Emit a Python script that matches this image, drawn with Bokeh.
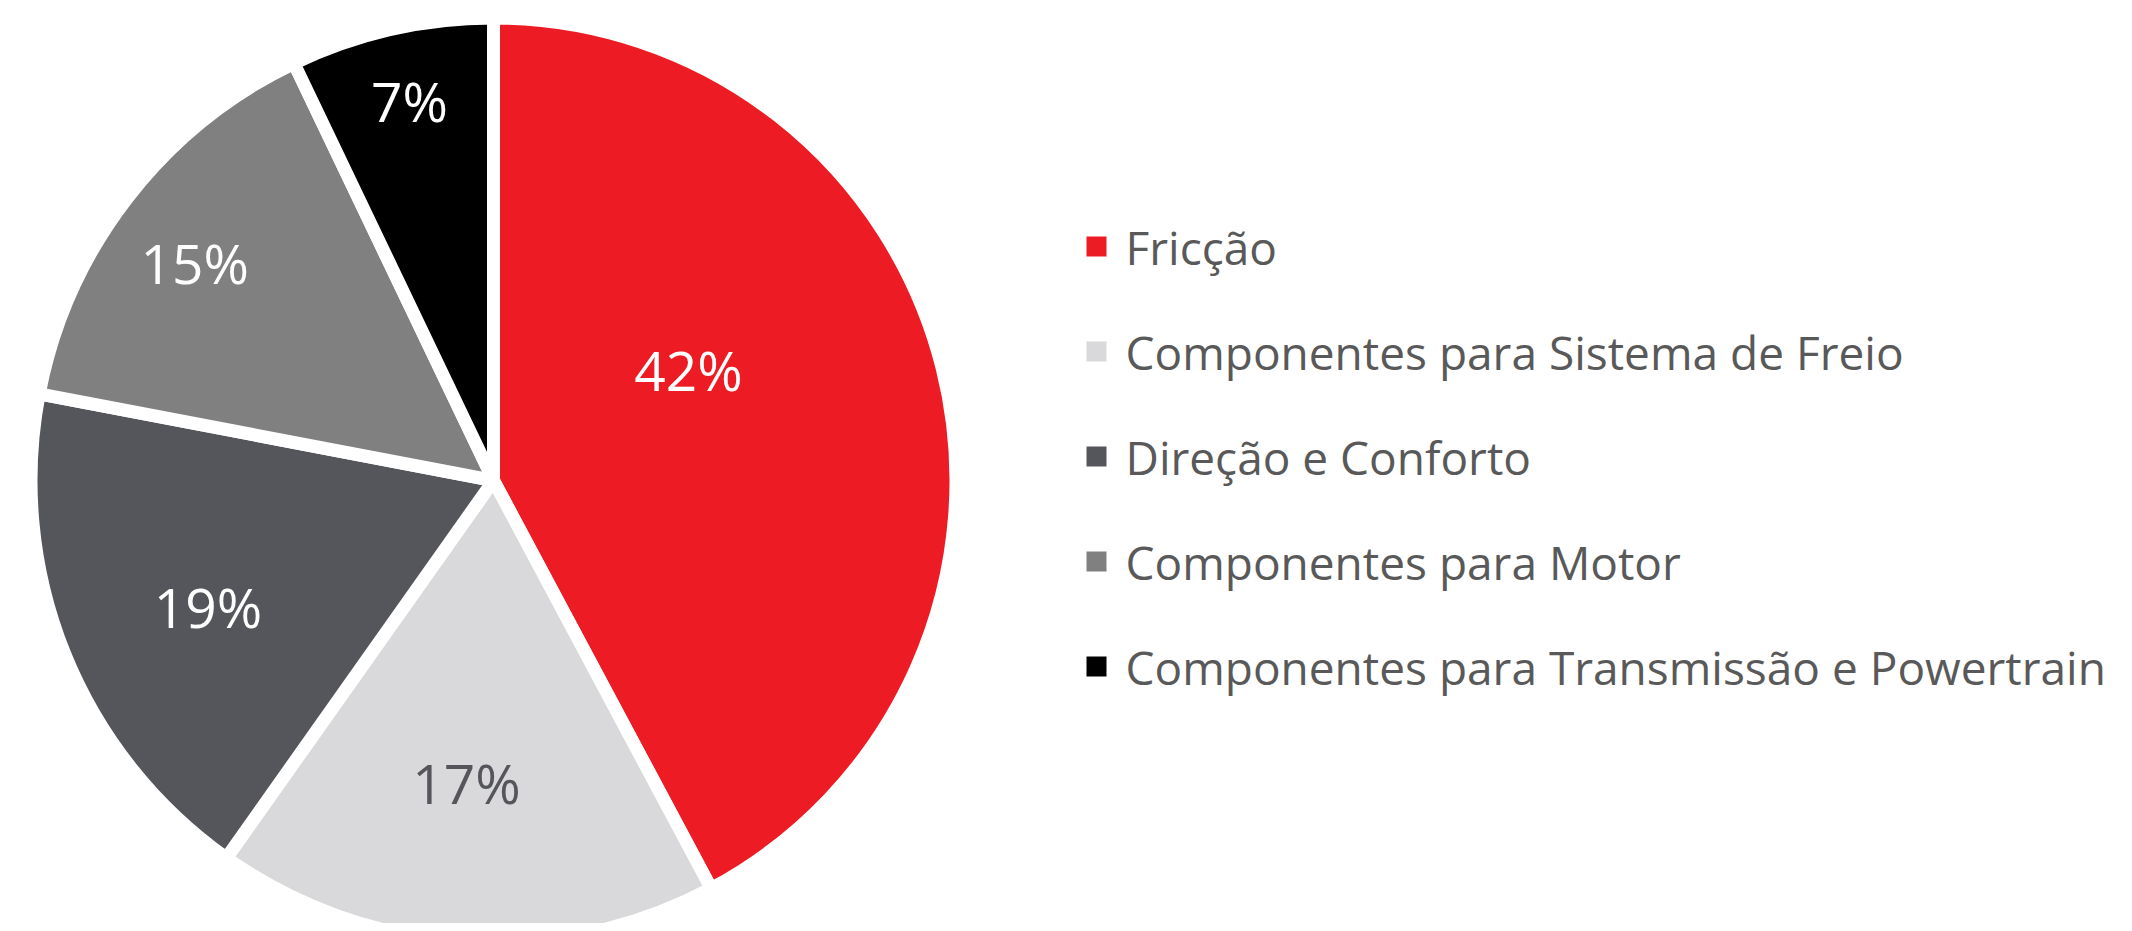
import numpy as np
from bokeh.plotting import figure
from bokeh.models import Range1d, ColumnDataSource
from bokeh.core.properties import value
from bokeh.embed import file_html
from bokeh.resources import INLINE

# ---- data ----
categories = [
    "Fricção",
    "Componentes para Sistema de Freio",
    "Direção e Conforto",
    "Componentes para Motor",
    "Componentes para Transmissão e Powertrain",
]
# slice sizes as drawn in the reference (%), and the printed labels
shares = [42.2, 17.6, 18.2, 14.9, 7.1]
labels = ["42%", "17%", "19%", "15%", "7%"]
colors = ["#ED1C24", "#D9D9DB", "#55565B", "#808080", "#000000"]
label_colors = ["#FFFFFF", "#55565B", "#FFFFFF", "#FFFFFF", "#FFFFFF"]

# ---- layout (style) ----
W, H = 2124, 923
cx, cy = 493, 931 - 480          # pie centre in data units (1 unit = 1 px)
r_vis = 456                      # visible radius
gap = 13                         # white separator width
label_r = [0.492, 0.665, 0.684, 0.811, 0.853]
label_dang = [-15.6, 1.5, -1.8, -1.5, 0.3]
FONT = "Open Sans"

vals = np.array(shares, dtype=float)
cum = np.concatenate([[0], np.cumsum(vals)]) / vals.sum()
start = np.pi / 2 - 2 * np.pi * cum[:-1]
end = np.pi / 2 - 2 * np.pi * cum[1:]
mid_deg = 360 * (cum[:-1] + cum[1:]) / 2 + np.array(label_dang)  # clockwise from top
lx = cx + np.array(label_r) * r_vis * np.sin(np.radians(mid_deg))
ly = cy + np.array(label_r) * r_vis * np.cos(np.radians(mid_deg))

src = ColumnDataSource(dict(
    cat=categories, start=start, end=end, color=colors,
    lx=lx, ly=ly, lab=labels, lcol=label_colors,
))

p = figure(width=W, height=H, output_backend="svg", toolbar_location=None,
           x_range=Range1d(0, W), y_range=Range1d(931 - H, 931),
           x_axis_location=None, y_axis_location=None,
           min_border=0, outline_line_color=None)
p.grid.visible = False
p.background_fill_color = "white"

p.wedge(x=cx, y=cy, radius=r_vis + gap / 2, start_angle="start", end_angle="end",
        direction="clock", fill_color="color", line_color="white",
        line_width=gap, line_join="round", source=src)

p.text(x="lx", y="ly", text="lab", text_color="lcol", text_font=value(FONT),
       text_font_size="55px", text_align="center", text_baseline="middle", source=src)

# ---- legend (manual) ----
n = len(categories)
row0, row_step = 246, 105
leg_y = [931 - (row0 + i * row_step) for i in range(n)]
leg_src = ColumnDataSource(dict(y=leg_y, color=colors, cat=categories))
p.scatter(x=1096, y="y", marker="square", size=20, fill_color="color",
          line_color=None, source=leg_src)
p.text(x=1125, y="y", text="cat", text_color="#595959", text_font=value(FONT),
       text_font_size="46px", text_align="left", text_baseline="middle", source=leg_src)

open("out.html", "w").write(file_html(p, INLINE))
